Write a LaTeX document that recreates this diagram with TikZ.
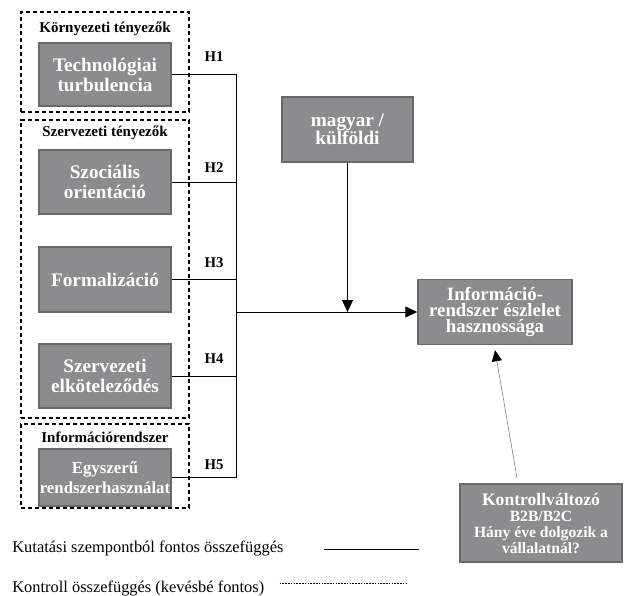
\documentclass[tikz,border=0pt]{standalone}
\usepackage{fontspec}
\setmainfont{Liberation Serif}
\usepackage{tikz}
\usetikzlibrary{arrows.meta, positioning, calc}
\definecolor{boxgray}{RGB}{140,140,142}
\definecolor{boxedge}{RGB}{105,105,105}

\begin{document}
\begin{tikzpicture}[x=0.5pt, y=-0.5pt,
  varbox/.style={draw=boxedge, fill=boxgray, line width=0.7pt, align=center, text=white,
    font=\bfseries\fontsize{9.6}{10}\selectfont, minimum width=66pt, inner sep=1pt},
  groupbox/.style={draw, dashed, line width=0.8pt, dash pattern=on 2.2pt off 1.3pt,
    minimum width=84pt},
  grouplabel/.style={font=\bfseries\fontsize{7.5}{8}\selectfont},
  hyp/.style={font=\bfseries\fontsize{7.4}{8}\selectfont},
  link/.style={line width=0.5pt},
  arr/.style={-{Triangle[length=6pt, width=5.5pt]}, line width=0.5pt},
  ctrl/.style={-{Triangle[length=5.5pt, width=5pt, color=black]}, line width=0.3pt, gray},
  legend/.style={anchor=west, font=\fontsize{8.2}{9}\selectfont, inner sep=0pt}
]
\useasboundingbox (0,0) rectangle (640,595);

% csoportok
\node[groupbox, minimum height=50pt] (grpkorny) at (105,62) {};
\node[groupbox, minimum height=149pt] (grpszerv) at (105,269) {};
\node[groupbox, minimum height=42pt] (grpinfo) at (105,466) {};
\node[grouplabel] at (105,29) {Környezeti tényezők};
\node[grouplabel] at (105,133) {Szervezeti tényezők};
\node[grouplabel] at (105,437) {Információrendszer};

% fuggetlen valtozok
\node[varbox, minimum height=31.5pt] (tech) at (105,74.5) {Technológiai\\turbulencia};
\node[varbox, minimum height=32pt] (szoc) at (105,182) {Szociális\\orientáció};
\node[varbox, minimum height=32.5pt] (form) at (105,279.5) {Formalizáció};
\node[varbox, minimum height=32pt] (elk) at (105,376) {Szervezeti\\elköteleződés};
\node[varbox, minimum height=28.5pt, inner sep=0pt, font=\bfseries\fontsize{8.4}{10}\selectfont] (egy) at (105,477.5) {Egyszerű\\rendszerhasználat};

% moderator, fuggo valtozo, kontroll
\node[varbox, minimum width=65.5pt, minimum height=32.5pt, font=\bfseries\fontsize{9.6}{9}\selectfont] (magyar) at (347.5,129.5) {magyar /\\külföldi};
\node[varbox, minimum width=77pt, minimum height=32.5pt, font=\bfseries\fontsize{9.4}{7.9}\selectfont] (info) at (495,312) {Információ-\\rendszer észlelet\\hasznossága};
\node[varbox, minimum width=81pt, minimum height=39pt, font=\bfseries\fontsize{7.8}{8}\selectfont] (kontroll) at (541,523)
  {{\fontsize{8.8}{8}\selectfont Kontrollváltozó}\\B2B/B2C\\Hány éve dolgozik a\\vállalatnál?};

% hipotezisek
\node[hyp] at (214,57) {H1};
\node[hyp] at (214,168) {H2};
\node[hyp] at (214,263) {H3};
\node[hyp] at (214,359) {H4};
\node[hyp] at (214,465) {H5};

\coordinate (bus) at (236,312);
\foreach \v in {tech, szoc, form, elk, egy}
  \draw[link] (\v.east) -| (bus);
\draw[arr] (bus) -- (info.west);
\draw[arr] (magyar.south) -- (magyar.south |- bus);

\coordinate (ktop) at (517,478);
\draw[ctrl] (ktop) -- ($(info.south)+(0,5)$);

% jelmagyarazat
\node[legend] (legfontos) at (12,548) {Kutatási szempontból fontos összefüggés};
\node[legend] (legkontroll) at (12,588) {Kontroll összefüggés (kevésbé fontos)};
\draw[line width=0.45pt] ($(legfontos.east)+(40,1)$) -- ++(95,0);
\draw[line width=0.4pt, dash pattern=on 0.8pt off 0.6pt] ($(legkontroll.east)+(15,-5)$) -- ++(128,0);
\end{tikzpicture}
\end{document}
